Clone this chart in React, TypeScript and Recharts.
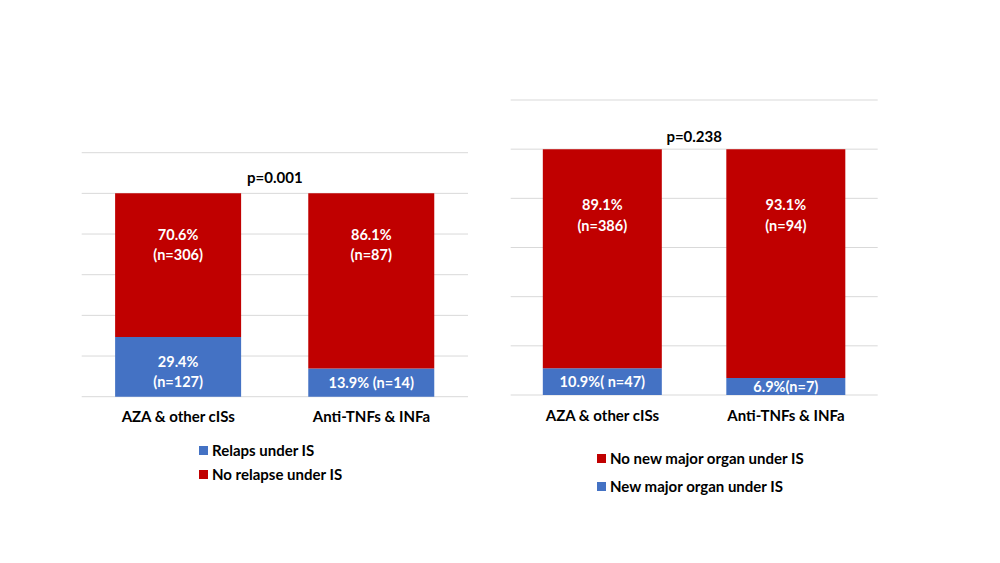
import React from 'react';
import { BarChart, Bar, XAxis, YAxis, CartesianGrid, LabelList, Legend, ReferenceLine } from 'recharts';

const categories = ['AZA & other cISs', 'Anti-TNFs & INFa'];
const relapsePct = [29.4, 13.9];
const noRelapsePct = [70.6, 86.1];
const relapseLabels = ['29.4%|(n=127)', '13.9% (n=14)'];
const noRelapseLabels = ['70.6%|(n=306)', '86.1%|(n=87)'];
const organPct = [10.9, 6.9];
const noOrganPct = [89.1, 93.1];
const organLabels = ['10.9%( n=47)', '6.9%(n=7)'];
const noOrganLabels = ['89.1%|(n=386)', '93.1%|(n=94)'];
const yTicks = [0, 20, 40, 60, 80, 100, 120];
const pLeft = 'p=0.001';
const pRight = 'p=0.238';
const pLeftPos = 107.8;
const pRightPos = 104.9;

const BLUE = '#4472C4';
const RED = '#C00000';
const GRID = '#D9D9D9';
const FONT = 'Lato, "Open Sans", sans-serif';
const LABEL_FS = 14.5;
const TEXT_FS = 15;

const leftData = categories.map((c, i) => ({
  name: c,
  low: relapsePct[i],
  high: noRelapsePct[i],
  lowLabel: relapseLabels[i],
  highLabel: noRelapseLabels[i],
}));
const rightData = categories.map((c, i) => ({
  name: c,
  low: organPct[i],
  high: noOrganPct[i],
  lowLabel: organLabels[i],
  highLabel: noOrganLabels[i],
}));

const makeTopLabel = (offTop: number, lineH: number) => (props: any) => {
  const { x, y, width, value } = props;
  const lines = String(value).split('|');
  const cx = Number(x) + Number(width) / 2;
  return (
    <text x={cx} textAnchor="middle" fill="#fff" fontSize={LABEL_FS} fontWeight={700} fontFamily={FONT}>
      {lines.map((l, i) => (
        <tspan key={i} x={cx} y={Number(y) + offTop + i * lineH} dominantBaseline="central">
          {l}
        </tspan>
      ))}
    </text>
  );
};

const makeCenterLabel = (lineH: number) => (props: any) => {
  const { x, y, width, height, value } = props;
  const lines = String(value).split('|');
  const cx = Number(x) + Number(width) / 2;
  const cy = Number(y) + Number(height) / 2;
  const start = lines.length > 1 ? cy - lineH / 2 + 5 : cy;
  return (
    <text x={cx} textAnchor="middle" fill="#fff" fontSize={LABEL_FS} fontWeight={700} fontFamily={FONT}>
      {lines.map((l, i) => (
        <tspan key={i} x={cx} y={start + i * lineH} dominantBaseline="central">
          {l}
        </tspan>
      ))}
    </text>
  );
};

const LegendBox = ({ items, lineH }: { items: { name: string; color: string }[]; lineH: number }) => (
  <div style={{ fontFamily: FONT, fontSize: TEXT_FS, fontWeight: 700, color: '#000' }}>
    {items.map((it) => (
      <div key={it.name} style={{ height: lineH, lineHeight: lineH + 'px', whiteSpace: 'nowrap', display: 'flex', alignItems: 'center' }}>
        <span style={{ display: 'inline-block', width: 9, height: 9, background: it.color, marginRight: 4 }} />
        <span>{it.name}</span>
      </div>
    ))}
  </div>
);

const xTick = { fill: '#000', fontSize: TEXT_FS, fontWeight: 700, fontFamily: FONT };

export default function App() {
  return (
    <div style={{ position: 'absolute', left: 0, top: 0, width: 1000, height: 563, background: '#fff', fontFamily: FONT }}>
      <div style={{ position: 'absolute', left: 0, top: 0 }}>
        <BarChart
          width={500}
          height={563}
          data={leftData}
          margin={{ top: 152.7, right: 32, left: 81.7, bottom: 136.3 }}
          barCategoryGap="17.3%"
          style={{ fontFamily: FONT }}
        >
          <CartesianGrid horizontal vertical={false} stroke={GRID} strokeWidth={1} />
          <YAxis hide domain={[0, 120]} ticks={yTicks} />
          <XAxis dataKey="name" axisLine={false} tickLine={false} tickSize={0} tickMargin={15} height={30} tick={xTick} interval={0} />
          <ReferenceLine y={pLeftPos} stroke="none" label={{ value: pLeft, position: 'center', fill: '#000', fontSize: TEXT_FS, fontWeight: 700 }} />
          <Bar dataKey="low" stackId="a" fill={BLUE} name="Relaps under IS" isAnimationActive={false}>
            <LabelList dataKey="lowLabel" content={makeCenterLabel(20)} />
          </Bar>
          <Bar dataKey="high" stackId="a" fill={RED} name="No relapse under IS" isAnimationActive={false}>
            <LabelList dataKey="highLabel" content={makeTopLabel(41, 20)} />
          </Bar>
          <Legend
            layout="vertical"
            align="center"
            verticalAlign="middle"
            wrapperStyle={{ left: 199, top: 438, width: 250, height: 50 }}
            content={() => (
              <LegendBox
                lineH={24}
                items={[
                  { name: 'Relaps under IS', color: BLUE },
                  { name: 'No relapse under IS', color: RED },
                ]}
              />
            )}
          />
        </BarChart>
      </div>
      <div style={{ position: 'absolute', left: 500, top: 0 }}>
        <BarChart
          width={500}
          height={563}
          data={rightData}
          margin={{ top: 100, right: 122.3, left: 10.7, bottom: 138 }}
          barCategoryGap="17.5%"
          style={{ fontFamily: FONT }}
        >
          <CartesianGrid horizontal vertical={false} stroke={GRID} strokeWidth={1} />
          <YAxis hide domain={[0, 120]} ticks={yTicks} />
          <XAxis dataKey="name" axisLine={false} tickLine={false} tickSize={0} tickMargin={15} height={30} tick={xTick} interval={0} />
          <ReferenceLine y={pRightPos} stroke="none" label={{ value: pRight, position: 'center', fill: '#000', fontSize: TEXT_FS, fontWeight: 700 }} />
          <Bar dataKey="low" stackId="a" fill={BLUE} name="New major organ under IS" isAnimationActive={false}>
            <LabelList dataKey="lowLabel" content={makeCenterLabel(20)} />
          </Bar>
          <Bar dataKey="high" stackId="a" fill={RED} name="No new major organ under IS" isAnimationActive={false}>
            <LabelList dataKey="highLabel" content={makeTopLabel(55, 21)} />
          </Bar>
          <Legend
            layout="vertical"
            align="center"
            verticalAlign="middle"
            wrapperStyle={{ left: 97, top: 444, width: 300, height: 56 }}
            content={() => (
              <LegendBox
                lineH={28}
                items={[
                  { name: 'No new major organ under IS', color: RED },
                  { name: 'New major organ under IS', color: BLUE },
                ]}
              />
            )}
          />
        </BarChart>
      </div>
    </div>
  );
}
